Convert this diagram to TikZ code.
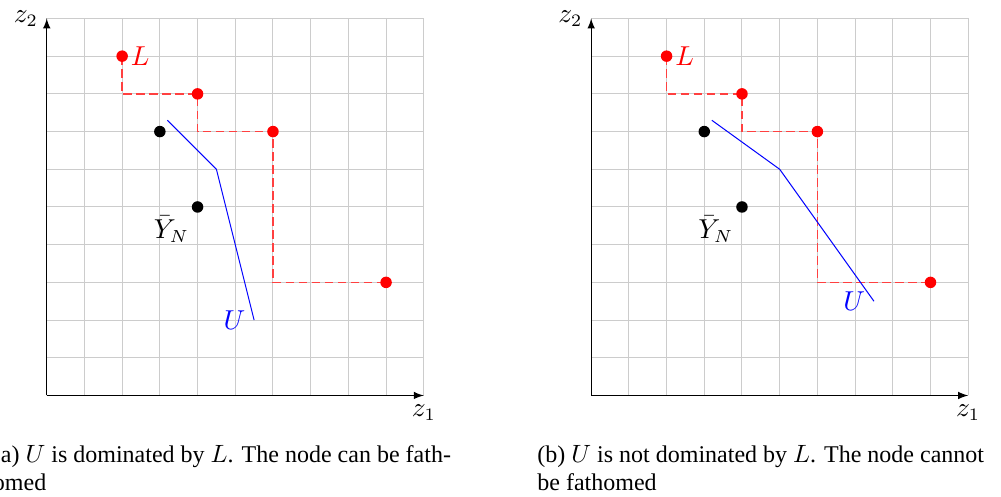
\documentclass[tikz,border=0pt]{standalone}
\usepackage{fontspec}
\setmainfont{Liberation Serif}
\begin{document}
\begin{tikzpicture}[x=15.08pt,y=15.08pt,
    lbl/.style={font=\fontsize{10.7}{13}\selectfont},
    bound/.style={red!75, line width=0.7pt, dash pattern=on 3.4pt off 1.8pt},
    capt/.style={anchor=base west, inner sep=0pt, font=\fontsize{9.6}{11.5}\selectfont}]
    \useasboundingbox (-1.24,-2.69) rectangle (25.31,10.49);
    \foreach \s/\p/\kx/\ex/\ey in {0/a/4.5/5.5/2, 14.44/b/5/7.5/2.5}{
    \begin{scope}[shift={(\s,0)}]
        \draw[gray!40, step=1] (0,0) grid (10,10);
        \draw[-latex] (0,0)--(10,0) node[below,lbl] (zx\p) {\(z_1\)};
        \draw[-latex] (0,0)--(0,10) node[left,lbl] (zy\p) {\(z_2\)};
        % lower bound set
        \coordinate (l1\p) at (2,9);
        \coordinate (l2\p) at (4,8);
        \coordinate (l3\p) at (6,7);
        \coordinate (l4\p) at (9,3);
        \draw[bound] (l1\p) |- (l2\p) |- (l3\p) |- (l4\p);
        \foreach \q in {l1,l2,l3,l4}
            \fill[red] (\q\p) circle (2.3pt);
        \node[right,lbl,red] (L\p) at (l1\p) {\(L\)};
        % nondominated points
        \coordinate (y1\p) at (3,7);
        \coordinate (y2\p) at (4,5);
        \fill (y1\p) circle (2.3pt);
        \fill (y2\p) circle (2.3pt);
        \node[below left,lbl] (Y\p) at (y2\p) {\(\bar{Y}_N\)};
        % upper bound
        \draw[blue] (3.2,7.3)--(\kx,6)--(\ex,\ey) node[left,lbl] (U\p) {\(U\)};
    \end{scope}
    }
    \node[capt] (capa1) at (-1.44,-1.79) {(a) \(U\) is dominated by \(L\). The node can be fath-};
    \node[capt] (capa2) at (-1.44,-2.53) {omed};
    \node[capt] (capb1) at (13.0,-1.79) {(b) \(U\) is not dominated by \(L\). The node cannot};
    \node[capt] (capb2) at (13.0,-2.53) {be fathomed};
\end{tikzpicture}
\end{document}
